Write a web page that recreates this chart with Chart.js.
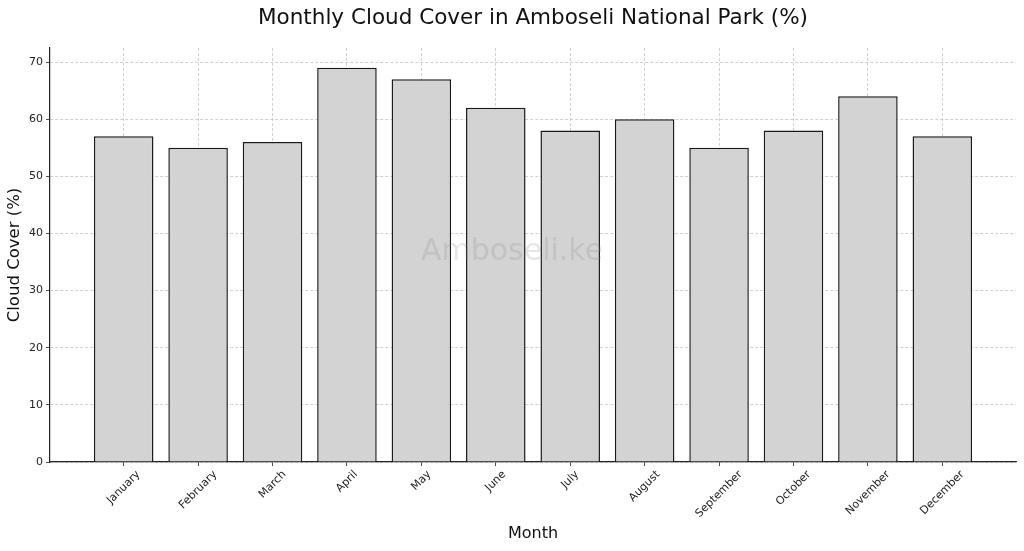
<!DOCTYPE html>
<html>
<head>
<meta charset="utf-8">
<script src="https://cdn.jsdelivr.net/npm/chart.js@4"></script>
<style>
  html, body { margin: 0; padding: 0; background: #fff; }
  #wrap { width: 1024px; height: 551px; }
</style>
</head>
<body>
<div id="wrap"><canvas id="cloud-cover"></canvas></div>
<script>
const months = ["January", "February", "March", "April", "May", "June", "July",
  "August", "September", "October", "November", "December"];
const cloud_cover = [57, 55, 56, 69, 67, 62, 58, 60, 55, 58, 64, 57];
const y_ticks = [0, 10, 20, 30, 40, 50, 60, 70];

const FONT = "'DejaVu Sans', sans-serif";

// matplotlib style: rotated labels centred on the tick
const centerRotatedLabels = {
  id: "centerRotatedLabels",
  beforeDraw(chart) {
    const sc = chart.scales.x;
    const items = sc.getLabelItems();
    const ctx = chart.ctx;
    items.forEach((it) => {
      ctx.save();
      ctx.font = it.font.string;
      const w = ctx.measureText(it.label).width;
      ctx.restore();
      it.options.translation[0] += w * 0.3536;
    });
  },
};

// titulo + marca d'agua
const extras = {
  id: "extras",
  afterDraw(chart) {
    const ctx = chart.ctx;
    const a = chart.chartArea;
    ctx.save();
    ctx.font = "30px " + FONT;
    ctx.fillStyle = "rgba(128,128,128,0.2)";
    ctx.textAlign = "center";
    ctx.textBaseline = "middle";
    ctx.fillText("Amboseli.ke", 512, 252);
    ctx.font = "21.5px " + FONT;
    ctx.fillStyle = "#111";
    ctx.fillText("Monthly Cloud Cover in Amboseli National Park (%)", (a.left + a.right) / 2, 18);
    ctx.restore();
  },
};

const dataset = cloud_cover.map((v, i) => ({ x: i, y: v }));

const gridStyle = {
  color: "rgba(176,176,176,0.75)",
  lineWidth: 0.8,
  tickColor: "#222",
  tickLength: 4,
  offset: false,
};

new Chart(document.getElementById("cloud-cover"), {
  type: "bar",
  data: {
    datasets: [
      {
        label: "Cloud Cover (%)",
        data: dataset,
        backgroundColor: "#d3d3d3",
        borderColor: "#1a1a1a",
        borderWidth: 1.5,
        barPercentage: 0.8,
        categoryPercentage: 1,
      },
    ],
  },
  options: {
    responsive: true,
    maintainAspectRatio: false,
    animation: false,
    layout: { padding: { top: 48, right: 8, left: 0, bottom: 0 } },
    plugins: {
      legend: { display: false },
      tooltip: { enabled: false },
    },
    scales: {
      x: {
        type: "linear",
        offset: false,
        min: -0.99,
        max: 11.99,
        z: 1,
        afterBuildTicks: (scale) => {
          scale.ticks = months.map((m, i) => ({ value: i }));
        },
        afterFit: (scale) => {
          scale.height = 89;
        },
        grid: gridStyle,
        border: { display: true, color: "#222", width: 1.2, dash: [3, 2] },
        ticks: {
          color: "#222",
          font: { family: FONT, size: 11 },
          minRotation: 45,
          maxRotation: 45,
          padding: 2,
          autoSkip: false,
          callback: function (val) {
            return months[val] || "";
          },
        },
        title: {
          display: true,
          text: "Month",
          color: "#111",
          font: { family: FONT, size: 16 },
          padding: { top: 0, bottom: 8 },
        },
      },
      y: {
        min: 0,
        max: 72.45,
        z: 1,
        afterBuildTicks: (scale) => {
          scale.ticks = y_ticks.map((v) => ({ value: v }));
        },
        afterFit: (scale) => {
          scale.width = 50;
        },
        grid: gridStyle,
        border: { display: true, color: "#222", width: 1.2, dash: [3, 2] },
        ticks: {
          color: "#222",
          font: { family: FONT, size: 11 },
          padding: 3,
        },
        title: {
          display: true,
          text: "Cloud Cover (%)",
          color: "#111",
          font: { family: FONT, size: 16.5 },
          padding: { top: 5, bottom: 0 },
        },
      },
    },
  },
  plugins: [centerRotatedLabels, extras],
});
</script>
</body>
</html>
